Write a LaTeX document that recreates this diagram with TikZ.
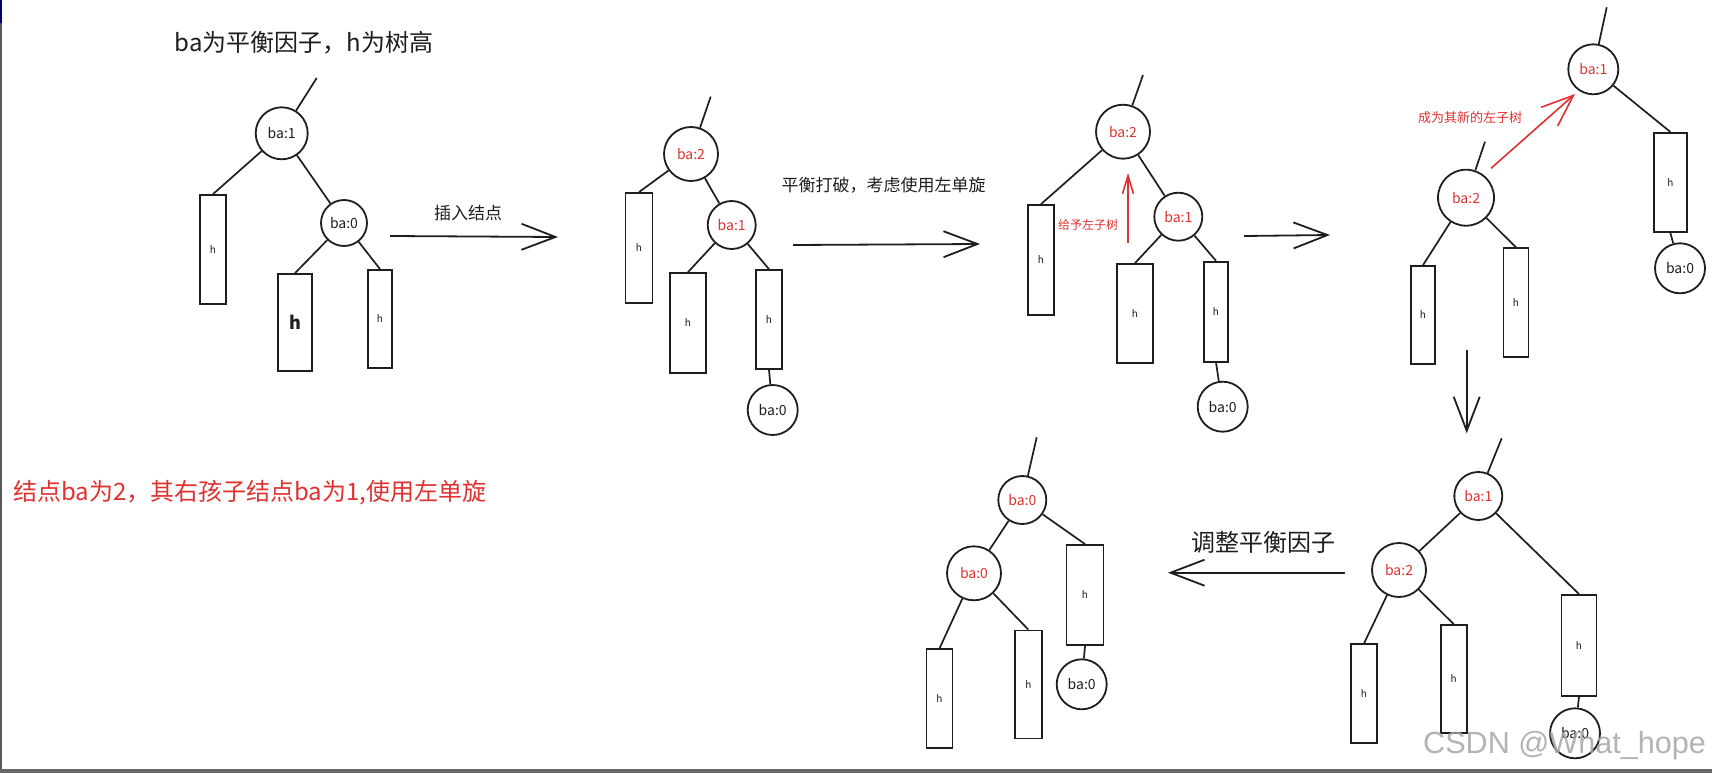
\documentclass[tikz,border=0pt]{standalone}
\usepackage{fontspec}
\newfontfamily\cjk{Noto Sans CJK SC}
\newfontfamily\wmfont{Liberation Sans}
\usetikzlibrary{arrows.meta}
\definecolor{ink}{RGB}{30,30,30}
\definecolor{exred}{RGB}{224,49,49}
\begin{document}
\begin{tikzpicture}[x=1pt,y=-1pt,
  every node/.style={font=\cjk},
  circ/.style={draw=ink, line width=1.8pt, circle, inner sep=0pt, text=ink, font=\cjk\fontsize{14}{16}\selectfont},
  redc/.style={circ, text=exred},
  tbox/.style={draw=ink, line width=1.8pt, rectangle, inner sep=0pt, text=ink, font=\cjk\fontsize{10}{12}\selectfont},
  edge/.style={draw=ink, line width=1.7pt},
  bigarrow/.style={draw=ink, line width=1.8pt, -{Straight Barb[length=34pt,width=26pt]}},
  redarrow/.style={draw=exred, line width=1.6pt},
  lbl/.style={text=ink, inner sep=0pt},
  redlbl/.style={text=exred, inner sep=0pt}]
\useasboundingbox (0,0) rectangle (1712,773);
\fill[white] (0,0) rectangle (1712,773);
\fill[black!65] (0,0) rectangle (2,773);
\fill[blue!45!black] (0,0) rectangle (2,23);
\fill[black!60] (0,769) rectangle (1712,773);

% title
\node[lbl, font=\cjk\fontsize{24}{28}\selectfont] (title) at (304,43) {ba为平衡因子，h为树高};
\node[redlbl, anchor=west, font=\cjk\fontsize{24}{28}\selectfont] (note) at (13,493) {结点ba为2，其右孩子结点ba为1,使用左单旋};

% ---------- tree 1 ----------
\node[circ, minimum size=52pt] (t1r) at (281.7,133.3) {ba:1};
\node[circ, minimum size=46pt] (t1c) at (344,223) {ba:0};
\node[tbox, minimum width=26pt, minimum height=109pt] (t1L) at (213,249.5) {h};
\node[tbox, minimum width=34pt, minimum height=97pt, font=\cjk\bfseries\fontsize{18}{20}\selectfont] (t1a) at (295,322.5) {h};
\node[tbox, minimum width=24pt, minimum height=98pt] (t1b) at (380,319) {h};
\coordinate (t1top) at (316.7,78);
\draw[edge] (t1r) -- (t1top);
\draw[edge] (t1r) -- (t1L.north);
\draw[edge] (t1r) -- (t1c);
\draw[edge] (t1c) -- (t1a.north);
\draw[edge] (t1c) -- (t1b.north);
\coordinate (a1s) at (390,236);
\coordinate (a1e) at (558,237);
\draw[bigarrow] (a1s) -- (a1e);
\node[lbl, font=\cjk\fontsize{17}{20}\selectfont] (a1l) at (468,213) {插入结点};

% ---------- tree 2 ----------
\node[redc, minimum size=54pt] (t2r) at (691,154) {ba:2};
\node[redc, minimum size=48pt] (t2c) at (731.7,225) {ba:1};
\node[circ, minimum size=50pt] (t2n) at (772.7,410) {ba:0};
\node[tbox, minimum width=27pt, minimum height=110pt] (t2L) at (639,248) {h};
\node[tbox, minimum width=36pt, minimum height=100pt] (t2a) at (688,323) {h};
\node[tbox, minimum width=26pt, minimum height=99pt] (t2b) at (769,319.5) {h};
\coordinate (t2top) at (710.7,96.7);
\draw[edge] (t2r) -- (t2top);
\draw[edge] (t2r) -- (t2L.north);
\draw[edge] (t2r) -- (t2c);
\draw[edge] (t2c) -- (t2a.north);
\draw[edge] (t2c) -- (t2b.north);
\draw[edge] (t2b.south) -- (t2n);
\coordinate (a2s) at (793,245);
\coordinate (a2e) at (980,244);
\draw[bigarrow] (a2s) -- (a2e);
\node[lbl, font=\cjk\fontsize{17}{20}\selectfont] (a2l) at (883.5,185) {平衡打破，考虑使用左单旋};

% ---------- tree 3 ----------
\node[redc, minimum size=54pt] (t3r) at (1123,131.7) {ba:2};
\node[redc, minimum size=48pt] (t3c) at (1178.3,216.7) {ba:1};
\node[circ, minimum size=50pt] (t3n) at (1222.7,406.7) {ba:0};
\node[tbox, minimum width=26pt, minimum height=110pt] (t3L) at (1041,260) {h};
\node[tbox, minimum width=36pt, minimum height=99pt] (t3a) at (1135,313.5) {h};
\node[tbox, minimum width=24pt, minimum height=100pt] (t3b) at (1216,311.7) {h};
\coordinate (t3top) at (1143,75);
\draw[edge] (t3r) -- (t3top);
\draw[edge] (t3r) -- (t3L.north);
\draw[edge] (t3r) -- (t3c);
\draw[edge] (t3c) -- (t3a.north);
\draw[edge] (t3c) -- (t3b.north);
\draw[edge] (t3b.south) -- (t3n);
\coordinate (r1s) at (1128,243);
\coordinate (r1e) at (1128,173);
\draw[redarrow, -{Straight Barb[length=18pt,width=11pt]}] (r1s) -- (r1e);
\node[redlbl, font=\cjk\fontsize{12}{14}\selectfont] (r1l) at (1088,225) {给予左子树};
\coordinate (a3s) at (1244,236);
\coordinate (a3e) at (1330,235);
\draw[bigarrow] (a3s) -- (a3e);

% ---------- tree 4 ----------
\node[redc, minimum size=50pt] (t4r) at (1593.3,69.3) {ba:1};
\node[circ, minimum size=50pt] (t4n) at (1680,268.3) {ba:0};
\node[redc, minimum size=56pt] (t4c) at (1466,197.7) {ba:2};
\node[tbox, minimum width=33pt, minimum height=99pt] (t4R) at (1670.3,182.3) {h};
\node[tbox, minimum width=24pt, minimum height=98pt] (t4L) at (1423,315) {h};
\node[tbox, minimum width=25pt, minimum height=109pt] (t4M) at (1516,302.8) {h};
\coordinate (t4top) at (1606.7,7.3);
\coordinate (t4ctop) at (1485,141.7);
\draw[edge] (t4r) -- (t4top);
\draw[edge] (t4c) -- (t4ctop);
\draw[edge] (t4r) -- (t4R.north);
\draw[edge] (t4R.south) -- (t4n);
\draw[edge] (t4c) -- (t4L.north);
\draw[edge] (t4c) -- (t4M.north);
\coordinate (r2s) at (1491,168.3);
\coordinate (r2e) at (1575,94);
\draw[redarrow, -{Straight Barb[length=32pt,width=25pt]}] (r2s) -- (r2e);
\node[redlbl, font=\cjk\fontsize{13}{15}\selectfont] (r2l) at (1470,118) {成为其新的左子树};
\coordinate (a4s) at (1466.7,350);
\coordinate (a4e) at (1466.7,433.3);
\draw[bigarrow] (a4s) -- (a4e);

% ---------- tree 5 ----------
\node[redc, minimum size=48pt] (t5r) at (1478.3,496) {ba:1};
\node[redc, minimum size=54pt] (t5c) at (1399,570) {ba:2};
\node[circ, minimum size=50pt] (t5n) at (1575,733.3) {ba:0};
\node[tbox, minimum width=26pt, minimum height=99pt] (t5L) at (1364,693.8) {h};
\node[tbox, minimum width=26pt, minimum height=108pt] (t5M) at (1453.7,679) {h};
\node[tbox, minimum width=35pt, minimum height=101pt] (t5R) at (1579,645.5) {h};
\coordinate (t5top) at (1501.7,438.3);
\draw[edge] (t5r) -- (t5top);
\draw[edge] (t5r) -- (t5c);
\draw[edge] (t5r) -- (t5R.north);
\draw[edge] (t5c) -- (t5L.north);
\draw[edge] (t5c) -- (t5M.north);
\draw[edge] (t5R.south) -- (t5n);
\coordinate (a5s) at (1345,572.7);
\coordinate (a5e) at (1168,572.7);
\draw[bigarrow] (a5s) -- (a5e);
\node[lbl, font=\cjk\fontsize{24}{28}\selectfont] (a5l) at (1263,542) {调整平衡因子};

% ---------- tree 6 ----------
\node[redc, minimum size=48pt] (t6r) at (1022.3,500) {ba:0};
\node[redc, minimum size=54pt] (t6c) at (974,573.3) {ba:0};
\node[circ, minimum size=50pt] (t6n) at (1081.7,684.3) {ba:0};
\node[tbox, minimum width=26pt, minimum height=99pt] (t6L) at (939.5,698.8) {h};
\node[tbox, minimum width=27pt, minimum height=108pt] (t6M) at (1028.3,684.5) {h};
\node[tbox, minimum width=37pt, minimum height=100pt] (t6R) at (1085,595) {h};
\coordinate (t6top) at (1036.7,437.3);
\draw[edge] (t6r) -- (t6top);
\draw[edge] (t6r) -- (t6c);
\draw[edge] (t6r) -- (t6R.north);
\draw[edge] (t6c) -- (t6L.north);
\draw[edge] (t6c) -- (t6M.north);
\draw[edge] (t6R.south) -- (t6n);

% watermark
\node[anchor=base west, inner sep=0pt, text=black!35, opacity=0.85, font=\wmfont\fontsize{30.6}{34}\selectfont] (wm) at (1423,753) {CSDN @What\_hope};
\end{tikzpicture}
\end{document}
